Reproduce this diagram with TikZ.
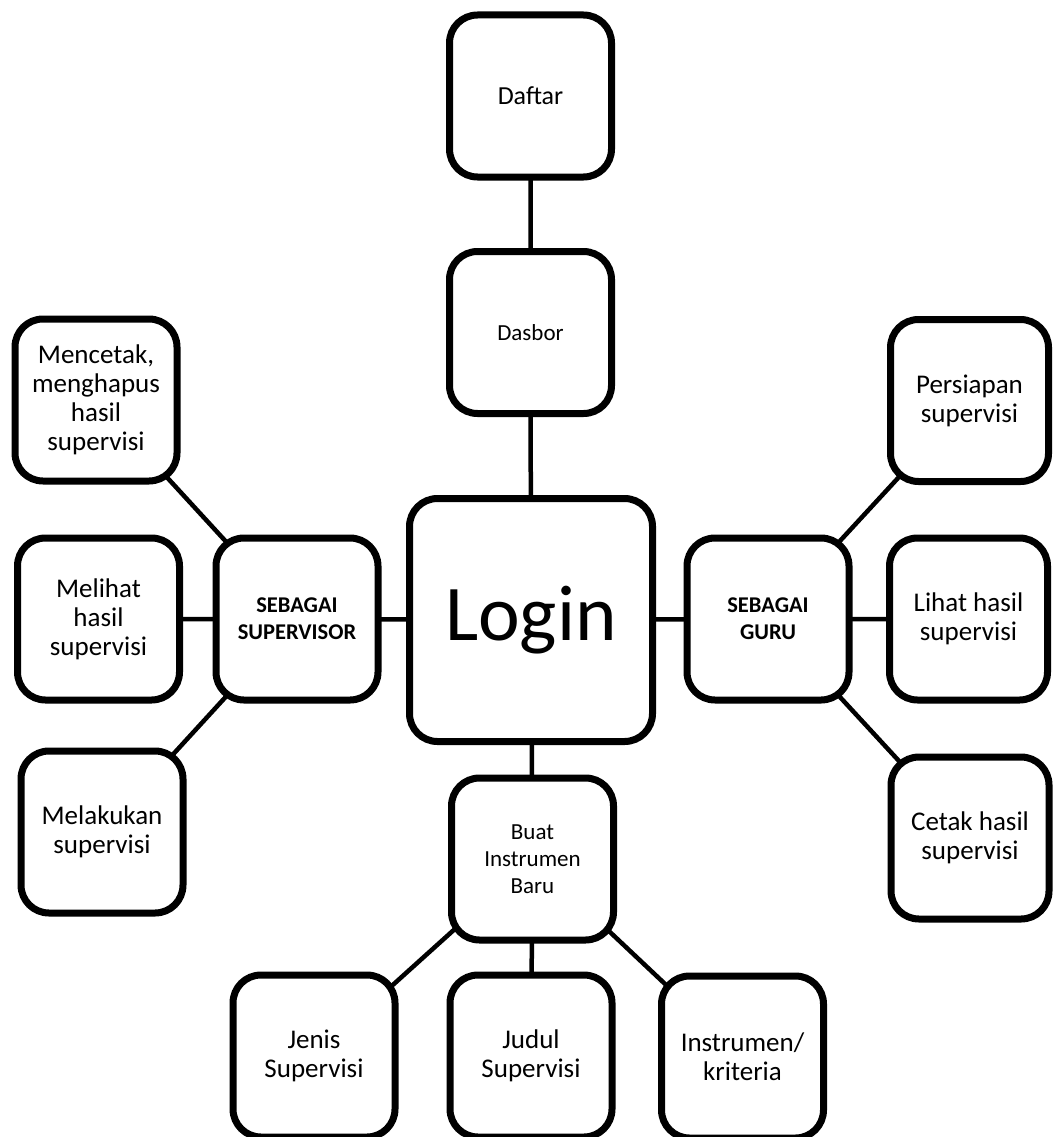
\documentclass[tikz,border=0pt]{standalone}
\usepackage{fontspec}
\setmainfont{Carlito}
\usetikzlibrary{shadows,backgrounds}
\tikzset{%
  box/.style={draw, rectangle, line width=7pt, rounded corners=28pt, fill=white,
    align=center, inner sep=0pt, minimum width=162pt, minimum height=162pt,
    font=\fontsize{27}{29}\selectfont,
    drop shadow={shadow xshift=2pt, shadow yshift=-3pt, opacity=0.25, fill=black}},% menu box
  narrowbox/.style={box, minimum width=158pt},% boxes at the right border
  rolebox/.style={box, font=\fontsize{22.5}{27}\selectfont\bfseries},% role boxes
  smallbox/.style={box, font=\fontsize{23}{27}\selectfont},
  loginbox/.style={box, minimum width=243pt, minimum height=243pt,
    font=\fontsize{79}{90}\selectfont},
  link/.style={draw, line width=4.5pt}% connector
}

\begin{document}
\begin{tikzpicture}[x=1pt, y=-1pt]
\useasboundingbox (0,0) rectangle (1052,1137);

\node[box, font=\fontsize{26}{29}\selectfont] (daftar) at (530.5, 96) {Daftar};
\node[smallbox] (dasbor) at (530.5, 332.5) {Dasbor};
\node[loginbox] (login) at (531, 620) {Login};

\node[rolebox] (supervisor) at (297, 619) {SEBAGAI\\SUPERVISOR};
\node[rolebox] (guru) at (768, 619) {SEBAGAI\\GURU};

\node[box] (mencetak) at (96, 400) {Mencetak,\\menghapus\\hasil\\supervisi};
\node[box] (melihat) at (98.5, 619) {Melihat\\hasil\\supervisi};
\node[box] (melakukan) at (102, 832) {Melakukan\\supervisi};

\node[narrowbox] (persiapan) at (969.5, 400.5) {Persiapan\\supervisi};
\node[narrowbox] (lihat) at (968.5, 619) {Lihat hasil\\supervisi};
\node[narrowbox] (cetak) at (970, 838) {Cetak hasil\\supervisi};

\node[smallbox] (buat) at (532.5, 859) {Buat\\Instrumen\\Baru};
\node[box] (jenis) at (314, 1056) {Jenis\\Supervisi};
\node[box] (judul) at (531, 1056) {Judul\\Supervisi};
\node[box] (instrumen) at (742.5, 1057) {Instrumen/\\kriteria};

\begin{scope}[on background layer]
\draw[link] (daftar.center) -- (dasbor.center) -- (login.center) -- (buat.center);
\draw[link] (melihat.center) -- (supervisor.center) -- (login.center) -- (guru.center) -- (lihat.center);
\draw[link] (supervisor.center) edge (mencetak.center) edge (melakukan.center);
\draw[link] (guru.center) edge (persiapan.center) edge (cetak.center);
\draw[link] (buat.center) edge (jenis.center) edge (judul.center) edge (instrumen.center);
\end{scope}

\end{tikzpicture}
\end{document}
